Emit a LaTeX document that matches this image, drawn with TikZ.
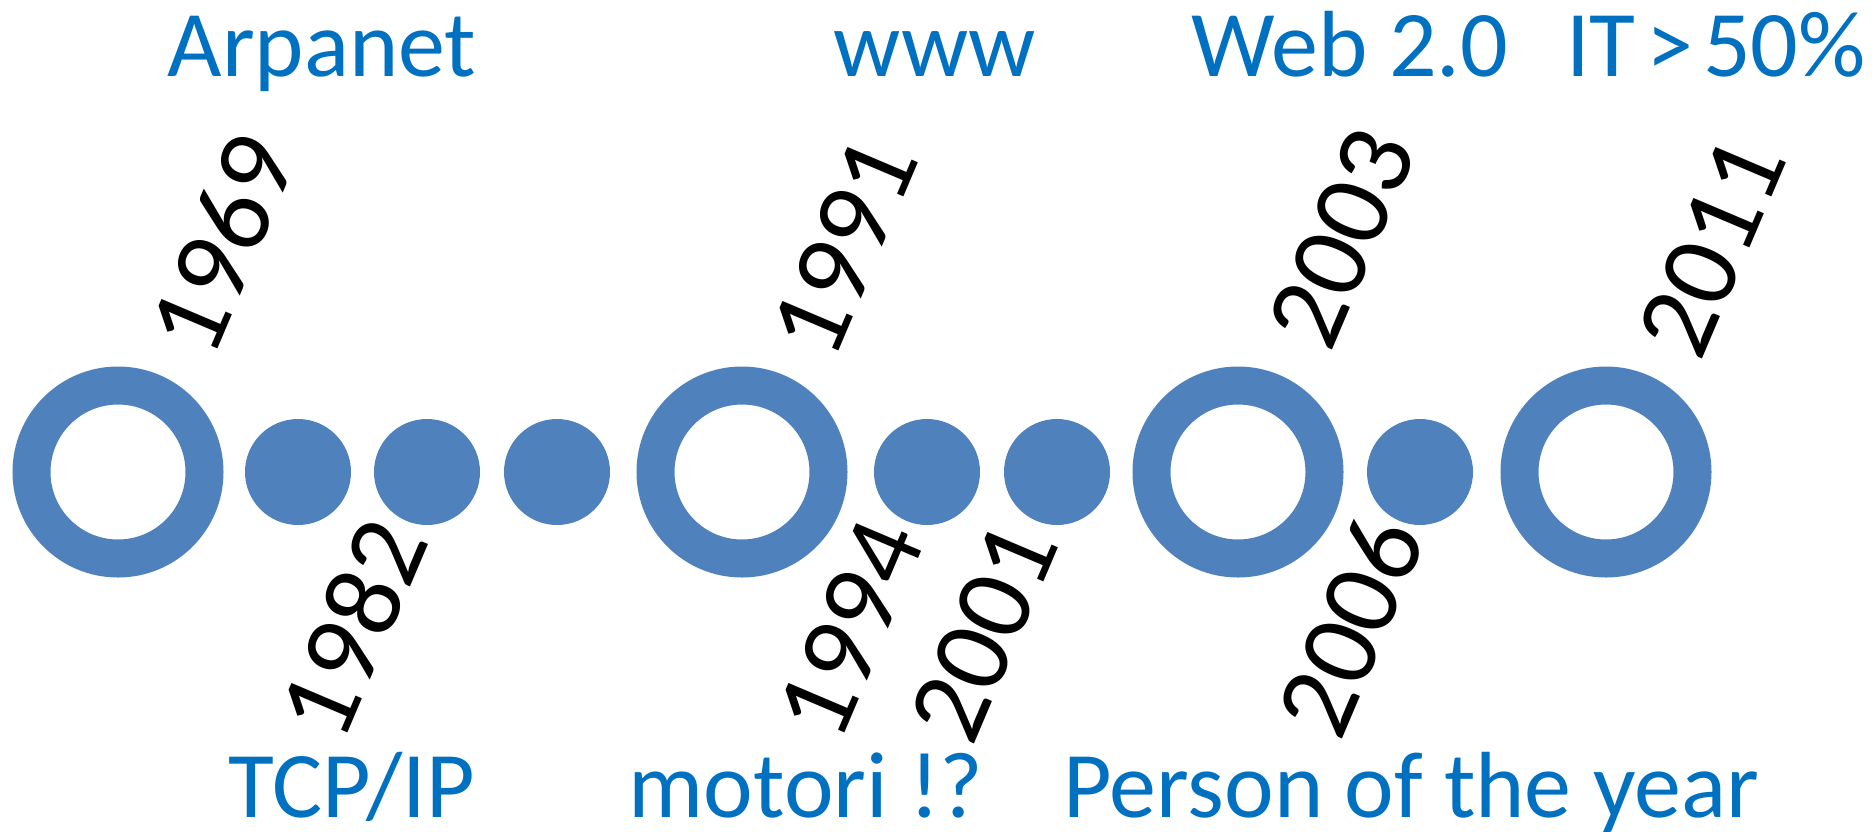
\documentclass[tikz,border=0pt]{standalone}
\usepackage{fontspec}
\setmainfont{Carlito}
\definecolor{ringblue}{HTML}{4F81BD}
\definecolor{labelblue}{HTML}{0070C0}
\tikzset{
  ringnode/.style={circle, draw=ringblue, line width=38pt, minimum size=173pt, inner sep=0pt},
  dotnode/.style={circle, fill=ringblue, minimum size=106pt, inner sep=0pt},
  lbl/.style={text=labelblue, inner sep=0pt, anchor=base, font=\fontsize{94}{100}\selectfont},
  yr/.style={text=black, inner sep=0pt, rotate=67, font=\fontsize{110}{116}\selectfont}
}
\begin{document}
\begin{tikzpicture}[x=1pt,y=-1pt]
\useasboundingbox (0,0) rectangle (1872,831);
\clip (0,0) rectangle (1872,831);
% timeline
\node[ringnode] (r1) at (118,472) {};
\node[dotnode] (d2) at (298,472) {};
\node[dotnode] (d3) at (427,472) {};
\node[dotnode] (d4) at (557,472) {};
\node[ringnode] (r2) at (742,472) {};
\node[dotnode] (d5) at (927,472) {};
\node[dotnode] (d6) at (1057,472) {};
\node[ringnode] (r3) at (1238,472) {};
\node[dotnode] (d7) at (1420,472) {};
\node[ringnode] (r4) at (1606,472) {};
% top labels
\node[lbl] (tArpanet) at (322,76) {Arpanet};
\node[lbl] (tWWW) at (935,76) {www};
\node[lbl] (tWeb) at (1350,76) {Web 2.0};
\node[lbl, anchor=base west] (tIT) at (1566,76) {IT\hspace{0.11em}>\hspace{0.11em}50\%};
% bottom labels
\node[lbl] (bTCP) at (352,817) {TCP/IP};
\node[lbl] (bMotori) at (806,817) {motori !?};
\node[lbl] (bPerson) at (1411,817) {Person of the year};
% years
\node[yr] (y1969) at (222,244) {1969};
\node[yr] (y1982) at (352,628) {1982};
\node[yr] (y1991) at (844,247) {1991};
\node[yr] (y1994) at (850,629) {1994};
\node[yr] (y2001) at (984,632) {2001};
\node[yr] (y2003) at (1342,238) {2003};
\node[yr] (y2006) at (1350,626) {2006};
\node[yr] (y2011) at (1712,247) {2011};
\end{tikzpicture}
\end{document}
